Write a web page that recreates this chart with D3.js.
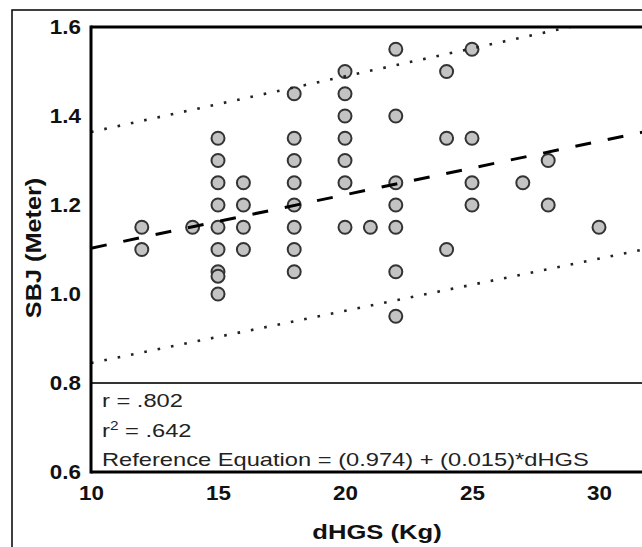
<!DOCTYPE html>
<html>
<head>
<meta charset="utf-8">
<script src="https://cdn.jsdelivr.net/npm/d3@7/dist/d3.min.js"></script>
<style>
  body { margin: 0; background: #fff; }
  svg { display: block; font-family: Arial, "Liberation Sans", sans-serif; }
</style>
</head>
<body>
<div id="chart"></div>
<script>
// scatter values: dHGS (Kg) and SBJ (Meter)
var dhgs = [12, 12, 14,
  15, 15, 15, 15, 15, 15, 15, 15, 15,
  16, 16, 16, 16,
  18, 18, 18, 18, 18, 18, 18, 18,
  20, 20, 20, 20, 20, 20, 20,
  21,
  22, 22, 22, 22, 22, 22, 22,
  24, 24, 24,
  25, 25, 25, 25,
  27, 28, 28, 30];
var sbj = [1.15, 1.10, 1.15,
  1.35, 1.30, 1.25, 1.20, 1.15, 1.10, 1.05, 1.04, 1.00,
  1.25, 1.20, 1.15, 1.10,
  1.45, 1.35, 1.30, 1.25, 1.20, 1.15, 1.10, 1.05,
  1.50, 1.45, 1.40, 1.35, 1.30, 1.25, 1.15,
  1.15,
  1.55, 1.40, 1.25, 1.20, 1.15, 1.05, 0.95,
  1.50, 1.35, 1.10,
  1.55, 1.35, 1.25, 1.20,
  1.25, 1.30, 1.20, 1.15];

// regression line and prediction band, end points as drawn
var fitLine   = [[10, 1.103], [35, 1.403]];
var upperBand = [[10, 1.364], [35, 1.677]];
var lowerBand = [[10, 0.845], [35, 1.138]];

var xTicks = [10, 15, 20, 25, 30];
var yTicks = [0.6, 0.8, 1.0, 1.2, 1.4, 1.6];
var statLines = ["r = .802", "r2 = .642", "Reference Equation = (0.974) + (0.015)*dHGS"];

var W = 642, H = 547;
var plotL = 91, plotT = 27, plotB = 472, plotR = 642;

var svg = d3.select("#chart").append("svg")
    .attr("width", W)
    .attr("height", H);

var x = d3.scaleLinear().domain([10, 30]).range([plotL, 599]);
var y = d3.scaleLinear().domain([0.6, 1.6]).range([plotB, plotT]);

// outer frame (cropped on right and bottom)
svg.append("rect")
    .attr("x", 12).attr("y", 10)
    .attr("width", 700).attr("height", 600)
    .attr("fill", "none")
    .attr("stroke", "#000")
    .attr("stroke-width", 1.5);

svg.append("clipPath").attr("id", "plotclip")
  .append("rect")
    .attr("x", plotL).attr("y", plotT)
    .attr("width", plotR - plotL).attr("height", y(0.8) - plotT);

// points
svg.append("g")
  .selectAll("circle")
  .data(dhgs)
  .enter().append("circle")
    .attr("cx", function(d) { return x(d); })
    .attr("cy", function(d, i) { return y(sbj[i]); })
    .attr("r", 6.5)
    .attr("fill", "#c3c3c3")
    .attr("stroke", "#333")
    .attr("stroke-width", 2);

var line = d3.line()
    .x(function(d) { return x(d[0]); })
    .y(function(d) { return y(d[1]); });

var lines = svg.append("g").attr("clip-path", "url(#plotclip)");
lines.append("path")
    .attr("d", line(fitLine))
    .attr("fill", "none")
    .attr("stroke", "#000")
    .attr("stroke-width", 3)
    .attr("stroke-dasharray", "16,17");
[upperBand, lowerBand].forEach(function(b) {
  lines.append("path")
      .attr("d", line(b))
      .attr("fill", "none")
      .attr("stroke", "#222")
      .attr("stroke-width", 2.6)
      .attr("stroke-dasharray", "2.6,11");
});

// frame of plot
svg.append("line")
    .attr("x1", plotL).attr("x2", plotR)
    .attr("y1", y(0.8)).attr("y2", y(0.8))
    .attr("stroke", "#333").attr("stroke-width", 1.8);
svg.append("line")
    .attr("x1", plotL).attr("x2", plotR)
    .attr("y1", plotT).attr("y2", plotT)
    .attr("stroke", "#000").attr("stroke-width", 3);
svg.append("line")
    .attr("x1", plotL).attr("x2", plotR)
    .attr("y1", plotB).attr("y2", plotB)
    .attr("stroke", "#000").attr("stroke-width", 3);
svg.append("line")
    .attr("x1", plotL).attr("x2", plotL)
    .attr("y1", plotT - 1.5).attr("y2", plotB + 1.5)
    .attr("stroke", "#000").attr("stroke-width", 3);

// axes (labels only)
var yAxis = svg.append("g")
    .attr("transform", "translate(" + plotL + ",0)")
    .call(d3.axisLeft(y).tickValues(yTicks).tickSize(0).tickPadding(9).tickFormat(d3.format(".1f")));
var xAxis = svg.append("g")
    .attr("transform", "translate(0," + plotB + ")")
    .call(d3.axisBottom(x).tickValues(xTicks).tickSize(0).tickPadding(14));
[yAxis, xAxis].forEach(function(a) {
  a.select(".domain").remove();
  a.selectAll("text")
      .attr("font-size", 20)
      .attr("font-weight", "bold")
      .attr("fill", "#111")
      .attr("font-family", "Arial, 'Liberation Sans', sans-serif")
      .attr("transform", "scale(1.12,1)");
});

// axis titles
svg.append("text")
    .attr("transform", "translate(377,539) scale(1.28,1)")
    .attr("text-anchor", "middle")
    .attr("font-size", 20)
    .attr("font-weight", "bold")
    .attr("fill", "#111")
    .text("dHGS (Kg)");
svg.append("text")
    .attr("transform", "translate(41,248) rotate(-90) scale(1.15,1)")
    .attr("text-anchor", "middle")
    .attr("font-size", 22)
    .attr("font-weight", "bold")
    .attr("fill", "#111")
    .text("SBJ (Meter)");

// statistics in the lower box
var statY = [407, 437, 466];
statLines.forEach(function(s, i) {
  var t = svg.append("text")
      .attr("transform", "translate(102," + statY[i] + ") scale(1.28,1)")
      .attr("font-size", 18.5)
      .attr("fill", "#222");
  if (s.indexOf("r2") === 0) {
    t.append("tspan").text("r");
    t.append("tspan").attr("font-size", 12).attr("dy", -7).text("2");
    t.append("tspan").attr("dy", 7).text(s.slice(2));
  } else {
    t.text(s);
  }
});
</script>
</body>
</html>
